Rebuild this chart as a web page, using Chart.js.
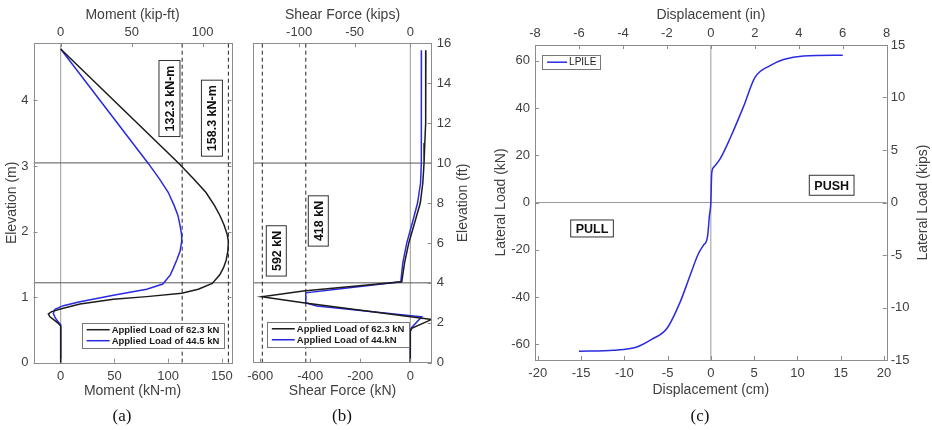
<!DOCTYPE html>
<html>
<head>
<meta charset="utf-8">
<script src="https://cdn.jsdelivr.net/npm/chart.js@4.4.1/dist/chart.umd.min.js"></script>
<style>
  html, body { margin: 0; padding: 0; background: #fff; overflow: hidden; width: 932px; height: 430px; position: relative; }
  canvas { position: absolute; top: 0; }
  .cap { position: absolute; top: 406px; font: 17px "Liberation Serif", "Times New Roman", serif; line-height: 20px; color: #111; transform: translateX(-50%); }
</style>
</head>
<body>
<canvas id="chartA" width="245" height="430" style="left:0"></canvas>
<canvas id="chartB" width="240" height="430" style="left:240px"></canvas>
<canvas id="chartC" width="470" height="430" style="left:470px"></canvas>
<div class="cap" style="left:122px">(a)</div>
<div class="cap" style="left:342px">(b)</div>
<div class="cap" style="left:700px">(c)</div>
<script>
// ---- (a) moment vs elevation ----
const elevA62 = [4.785, 3.04, 2.8, 2.6, 2.4, 2.25, 2.1, 1.95, 1.85, 1.7, 1.567, 1.45, 1.34, 1.21, 1.12, 1.06, 1.008, 0.968, 0.896, 0.83, 0.779, 0.743, 0.70, 0.662, 0.6, 0.56, 0];
const momA62  = [0, 110, 124, 135, 143, 148, 152, 155, 156, 155.5, 154, 151.5, 148, 141, 128, 112.6, 80, 49, 18, 2.4, -8.4, -11.5, -10, -6.9, -2.2, 0, 0];
const elevA44 = [4.785, 3.04, 2.8, 2.6, 2.4, 2.25, 2.1, 1.95, 1.85, 1.7, 1.567, 1.45, 1.34, 1.2, 1.12, 1.03, 0.93, 0.87, 0.815, 0.754, 0.70, 0.65, 0.58, 0];
const momA44  = [0, 81.5, 92, 100, 105.5, 109, 111, 112.5, 112.6, 111, 108, 105, 102, 95, 80, 49, 18, 2.4, -5.3, -6.9, -5.5, -3.7, 0, 0];
const momLimits = [113, 156];
const layerElevM = [3.048, 1.219];
const momTicksKNm = [0, 50, 100, 150];
const momTicksKipFt = [0, 50, 100];
const elevTicksM = [0, 1, 2, 3, 4];

// ---- (b) shear vs elevation ----
const elevB62  = [15.65, 12, 11, 10, 9, 8, 7, 6, 5, 4.05, 3.59, 3.30, 3.0, 2.17, 1.72, 1.57, 0];
const shearB62 = [62.3, 61.5, 58, 55, 50, 40, 17, -6, -23, -34, -428, -594, -428, 86, 5.6, 0, 0];
const elevB44  = [15.65, 12, 11, 10, 9, 8, 7, 6, 5, 4.05, 3.50, 3.0, 2.84, 2.30, 1.77, 1.65, 0];
const shearB44 = [44.5, 44.5, 44.3, 43.5, 41, 29, 8, -14, -30, -38, -418, -418, -374, 45.6, 5.6, 0, 0];
const shearLimits = [-592, -418];
const layerElevFt = [10, 4];
const shearTicksKN = [-600, -400, -200, 0];
const shearTicksKips = [-100, -50, 0];
const elevTicksFt = [0, 2, 4, 6, 8, 10, 12, 14, 16];

// ---- (c) load vs displacement ----
const dispCm = [-15.24, -11.2, -8.54, -6.8, -5.08, -3.54, -2.39, -1.43, -0.85, -0.39, -0.16, 0, 0.1, 0.3, 1.07, 2.2, 3.76, 5.1, 6.84, 8.4, 10.7, 15.24];
const loadKN = [-63, -62.6, -61.2, -57.9, -53.4, -42.1, -30.8, -21.6, -18.1, -14.6, -5.4, 0, 12.3, 14.8, 18.5, 27, 40.5, 53, 58, 60.6, 62.1, 62.4];
const dispTicksCm = [-20, -15, -10, -5, 0, 5, 10, 15, 20];
const dispTicksIn = [-8, -6, -4, -2, 0, 2, 4, 6, 8];
const loadTicksKN = [-60, -40, -20, 0, 20, 40, 60];
const loadTicksKips = [-15, -10, -5, 0, 5, 10, 15];

const TXT = '#404040';
const FRAME = '#8c8c8c';
const BLACK = '#1c1c1c';
const BLUE = '#2a2ae0';
const TICK = 4;

Chart.defaults.font.family = '"Liberation Sans", Arial, sans-serif';
Chart.defaults.color = TXT;

const pts = (xs, ys) => xs.map((x, i) => ({x, y: ys[i]}));

function axis(pos, min, max, ticks, size, tickPad, title, titlePad) {
  const horiz = pos === 'top' || pos === 'bottom';
  return {
    type: 'linear', position: pos, min, max,
    afterBuildTicks: s => { s.ticks = ticks.map(v => ({value: v})); },
    afterFit: s => { if (horiz) s.height = size; else s.width = size; },
    grid: {display: false, drawTicks: false},
    border: {display: false},
    ticks: {padding: tickPad, color: TXT, font: {size: 13}, maxRotation: 0, autoSkip: false},
    title: {display: !!title, text: title, color: TXT, font: {size: 14}, padding: titlePad || 0}
  };
}

function refLine(p0, p1, color, dash) {
  return {data: [p0, p1], borderColor: color, borderWidth: 1, borderDash: dash || [], showLine: true, pointRadius: 0};
}

function curve(label, data, color, extra) {
  return Object.assign({label, data, borderColor: color, borderWidth: 1.5, showLine: true, pointRadius: 0}, extra);
}

function drawTag(ctx, text, cx, cy, rot, h) {
  ctx.save();
  ctx.translate(cx, cy);
  ctx.rotate(rot);
  ctx.font = 'bold 12.5px "Liberation Sans", Arial, sans-serif';
  const w = ctx.measureText(text).width + 10;
  ctx.fillStyle = '#fff';
  ctx.fillRect(-w / 2, -h / 2, w, h);
  ctx.strokeStyle = '#333';
  ctx.lineWidth = 1;
  ctx.strokeRect(-w / 2, -h / 2, w, h);
  ctx.fillStyle = '#111';
  ctx.textAlign = 'center';
  ctx.textBaseline = 'middle';
  ctx.fillText(text, 0, 1);
  ctx.restore();
}

function drawLegend(ctx, chart, x0, y0, L) {
  const items = chart.data.datasets.filter(d => d.label);
  ctx.font = L.font;
  const tw = Math.max(...items.map(d => ctx.measureText(d.label).width));
  const w = 7 + L.line + tw + 4, h = items.length * L.row + 3;
  ctx.fillStyle = '#fff';
  ctx.fillRect(x0, y0, w, h);
  ctx.strokeStyle = '#777';
  ctx.lineWidth = 1;
  ctx.strokeRect(Math.round(x0) + 0.5, Math.round(y0) + 0.5, Math.round(w), Math.round(h));
  items.forEach((d, i) => {
    const cy = y0 + 1.5 + L.row * (i + 0.5);
    ctx.strokeStyle = d.borderColor;
    ctx.lineWidth = d.borderWidth;
    ctx.beginPath();
    ctx.moveTo(x0 + 5, cy);
    ctx.lineTo(x0 + 5 + L.line, cy);
    ctx.stroke();
    ctx.fillStyle = '#1a1a1a';
    ctx.textAlign = 'left';
    ctx.textBaseline = 'middle';
    ctx.fillText(d.label, x0 + 7 + L.line, cy + 0.5);
  });
}

// frame box, inward ticks, boxed labels, legend, right-hand titles
const decor = {
  id: 'decor',
  afterDatasetsDraw(chart, args, o) {
    const {ctx, chartArea: a} = chart;
    ctx.save();
    ctx.strokeStyle = FRAME;
    ctx.lineWidth = 1;
    ctx.strokeRect(Math.round(a.left) + 0.5, Math.round(a.top) + 0.5, Math.round(a.width), Math.round(a.height));
    for (const s of Object.values(chart.scales)) {
      const both = (o.mirror || []).includes(s.id);
      for (const t of s.ticks) {
        const p = Math.round(s.getPixelForValue(t.value)) + 0.5;
        ctx.beginPath();
        if (s.isHorizontal()) {
          if (s.position === 'bottom' || both) { ctx.moveTo(p, a.bottom); ctx.lineTo(p, a.bottom - TICK); }
          if (s.position === 'top' || both) { ctx.moveTo(p, a.top); ctx.lineTo(p, a.top + TICK); }
        } else {
          if (s.position === 'left' || both) { ctx.moveTo(a.left, p); ctx.lineTo(a.left + TICK, p); }
          if (s.position === 'right' || both) { ctx.moveTo(a.right, p); ctx.lineTo(a.right - TICK, p); }
        }
        ctx.stroke();
      }
    }
    const sx = chart.scales.x, sy = chart.scales.y;
    (o.tags || []).forEach(t => drawTag(ctx, t.text, sx.getPixelForValue(t.x), sy.getPixelForValue(t.y), t.rot, t.h));
    if (o.legend) drawLegend(ctx, chart, sx.getPixelForValue(o.legend.x), sy.getPixelForValue(o.legend.y), o.legend);
    if (o.rightTitle) {
      const r = chart.scales[o.rightTitle.scale];
      ctx.translate(r.right - o.rightTitle.offset, (a.top + a.bottom) / 2);
      ctx.rotate(-Math.PI / 2);
      ctx.font = '14px "Liberation Sans", Arial, sans-serif';
      ctx.fillStyle = TXT;
      ctx.textAlign = 'center';
      ctx.textBaseline = 'middle';
      ctx.fillText(o.rightTitle.text, 0, 0);
    }
    ctx.restore();
  }
};

const baseOpts = {
  responsive: false,
  animation: false,
  devicePixelRatio: 1,
  events: []
};

// ---------- (a) ----------
const ELEV_M_MAX = 4.877;
const A_MIN = -25.3, A_MAX = 158.9;
new Chart(document.getElementById('chartA'), {
  type: 'scatter',
  data: {
    datasets: [
      curve('Applied Load of 62.3 kN', pts(momA62, elevA62), BLACK),
      curve('Applied Load of 44.5 kN', pts(momA44, elevA44), BLUE),
      ...momLimits.map(m => refLine({x: m, y: 0}, {x: m, y: ELEV_M_MAX}, '#222', [4, 3])),
      ...layerElevM.map(e => refLine({x: A_MIN, y: e}, {x: A_MAX, y: e}, '#555')),
      refLine({x: 0, y: 0}, {x: 0, y: ELEV_M_MAX}, '#9a9a9a')
    ]
  },
  options: Object.assign({}, baseOpts, {
    layout: {padding: {left: 0, right: 13.5, top: 0, bottom: 0}},
    scales: {
      x: axis('bottom', A_MIN, A_MAX, momTicksKNm, 67.3, 6.2, 'Moment (kN-m)', {bottom: 30}),
      x2: axis('top', -19.15, 120.3, momTicksKipFt, 43, 2.5, 'Moment (kip-ft)', {top: 6.6}),
      y: axis('left', 0, ELEV_M_MAX, elevTicksM, 33.5, 5, 'Elevation (m)', {top: 3.3})
    },
    plugins: {
      legend: {display: false},
      tooltip: {enabled: false},
      decor: {
        mirror: ['y'],
        tags: [
          {text: '132.3 kN-m', x: 101.2, y: 4.03, rot: -Math.PI / 2, h: 21},
          {text: '158.3 kN-m', x: 140.7, y: 3.73, rot: -Math.PI / 2, h: 21}
        ],
        legend: {x: 19.5, y: 0.61, font: 'bold 9.5px "Liberation Sans", Arial, sans-serif', line: 23, row: 11}
      }
    }
  }),
  plugins: [decor]
});

// ---------- (b) ----------
const B_MIN = -628, B_MAX = 85.6;
const KN_PER_KIP = 4.448;
new Chart(document.getElementById('chartB'), {
  type: 'scatter',
  data: {
    datasets: [
      curve('Applied Load of 62.3 kN', pts(shearB62, elevB62), BLACK),
      curve('Applied Load of 44.kN', pts(shearB44, elevB44), BLUE),
      ...shearLimits.map(v => refLine({x: v, y: 0}, {x: v, y: 16}, '#222', [4, 3])),
      ...layerElevFt.map(e => refLine({x: B_MIN, y: e}, {x: B_MAX, y: e}, '#555')),
      refLine({x: 0, y: 0}, {x: 0, y: 16}, '#9a9a9a')
    ]
  },
  options: Object.assign({}, baseOpts, {
    layout: {padding: {left: 13.3, right: 0, top: 0, bottom: 0}},
    scales: {
      x: axis('bottom', B_MIN, B_MAX, shearTicksKN, 67.3, 6.2, 'Shear Force (kN)', {bottom: 30}),
      x2: axis('top', B_MIN / KN_PER_KIP, B_MAX / KN_PER_KIP, shearTicksKips, 43.3, 2.8, 'Shear Force (kips)', {top: 6.6}),
      y: axis('right', 0, 16, elevTicksFt, 48.3, 5, '', 0)
    },
    plugins: {
      legend: {display: false},
      tooltip: {enabled: false},
      decor: {
        tags: [
          {text: '592 kN', x: -536, y: 5.6, rot: -Math.PI / 2, h: 20},
          {text: '418 kN', x: -368, y: 7.1, rot: -Math.PI / 2, h: 20}
        ],
        legend: {x: -574, y: 2.05, font: 'bold 9.5px "Liberation Sans", Arial, sans-serif', line: 23, row: 11},
        rightTitle: {scale: 'y', text: 'Elevation (ft)', offset: 16.7}
      }
    }
  }),
  plugins: [decor]
});

// ---------- (c) ----------
const CM_PER_IN = 2.54;
const KN_MAX = 66.72;
new Chart(document.getElementById('chartC'), {
  type: 'scatter',
  data: {
    datasets: [
      curve('LPILE', pts(dispCm, loadKN), BLUE, {cubicInterpolationMode: 'monotone'}),
      refLine({x: 0, y: -KN_MAX}, {x: 0, y: KN_MAX}, '#9a9a9a'),
      refLine({x: -8 * CM_PER_IN, y: 0}, {x: 8 * CM_PER_IN, y: 0}, '#9a9a9a')
    ]
  },
  options: Object.assign({}, baseOpts, {
    layout: {padding: 0},
    scales: {
      x: axis('bottom', -8 * CM_PER_IN, 8 * CM_PER_IN, dispTicksCm, 70, 5.5, 'Displacement (cm)', {bottom: 31.6}),
      x2: axis('top', -8, 8, dispTicksIn, 45, 3.9, 'Displacement (in)', {top: 6.6}),
      y: axis('left', -KN_MAX, KN_MAX, loadTicksKN, 65, 5, 'Lateral Load (kN)', {top: 22.5}),
      y2: axis('right', -15, 15, loadTicksKips, 53.3, 4, '', 0)
    },
    plugins: {
      legend: {display: false},
      tooltip: {enabled: false},
      decor: {
        tags: [
          {text: 'PUSH', x: 13.96, y: 7.3, rot: 0, h: 20},
          {text: 'PULL', x: -13.73, y: -11, rot: 0, h: 17}
        ],
        legend: {x: -19.5, y: 62.4, font: '10px "Liberation Sans", Arial, sans-serif', line: 20, row: 11},
        rightTitle: {scale: 'y2', text: 'Lateral Load (kips)', offset: 17}
      }
    }
  }),
  plugins: [decor]
});
</script>
</body>
</html>
